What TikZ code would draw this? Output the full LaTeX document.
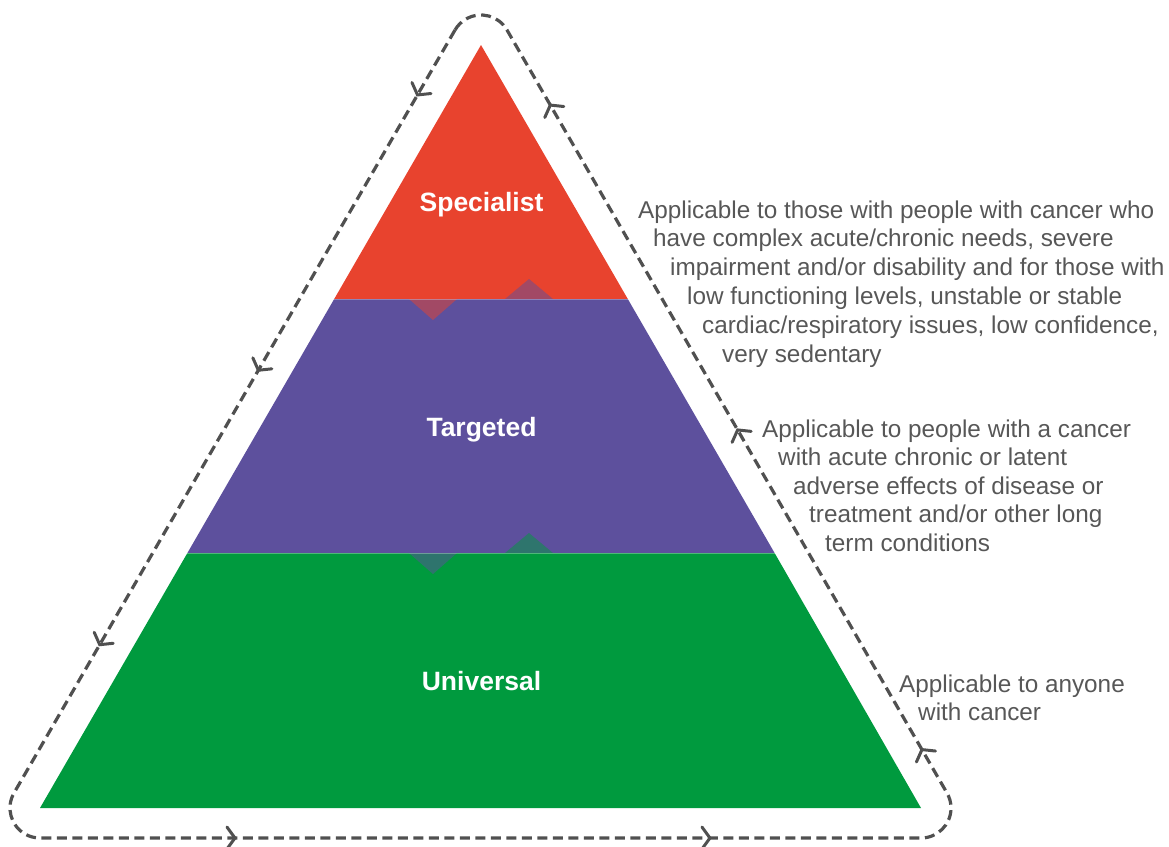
\documentclass[tikz,border=0pt]{standalone}
\usepackage{fontspec}
\setmainfont{Liberation Sans}
\usetikzlibrary{decorations.markings}
\definecolor{pyrred}{HTML}{E8432E}
\definecolor{pyrpurple}{HTML}{5D509D}
\definecolor{pyrgreen}{HTML}{009A3E}
\definecolor{txtgray}{HTML}{575757}
\definecolor{loopgray}{HTML}{505050}
\newcommand{\chevmark}{\draw[solid, draw=loopgray, line width=3pt, line cap=round, line join=miter] (-8pt,11pt) -- (0pt,0pt) -- (-8pt,-11pt);}
\begin{document}
\begin{tikzpicture}[x=1pt,y=-1pt,
  tierlabel/.style={font=\fontsize{26.5}{30}\selectfont\bfseries, text=white, inner sep=0pt, anchor=base},
  desc/.style={font=\fontsize{24.3}{29}\selectfont, text=txtgray, inner sep=0pt, anchor=base west},
  loopline/.style={draw=loopgray, line width=3.2pt, dash pattern=on 10pt off 5.5pt},
  tooth/.style={opacity=0.5},
  seam/.style={white, opacity=0.3, line width=1pt}
]
\useasboundingbox (0,0) rectangle (1169,846);

% pyramid bands
\fill[pyrred] (481,45) -- (627.8,299) -- (334.2,299) -- cycle;
\fill[pyrpurple] (334.2,299) -- (627.8,299) -- (774.6,553) -- (187.4,553) -- cycle;
\fill[pyrgreen] (187.4,553) -- (774.6,553) -- (921,808) -- (40,808) -- cycle;

% interlocking teeth
\fill[pyrred, tooth] (409,299) -- (457,299) -- (433,320) -- cycle;
\fill[pyrpurple, tooth] (505,299) -- (553,299) -- (529,279) -- cycle;
\fill[pyrpurple, tooth] (409,553) -- (457,553) -- (433,574) -- cycle;
\fill[pyrgreen, tooth] (505,553) -- (553,553) -- (529,533) -- cycle;
\draw[seam] (334.2,299) -- (627.8,299);
\draw[seam] (187.4,553) -- (774.6,553);

% dashed cycle loop
\draw[loopline,
  postaction={decorate},
  decoration={markings,
    mark=at position 75pt with {\chevmark},
    mark=at position 393pt with {\chevmark},
    mark=at position 710pt with {\chevmark},
    mark=at position 1139pt with {\chevmark},
    mark=at position 1614pt with {\chevmark},
    mark=at position 1938pt with {\chevmark},
    mark=at position 2307pt with {\chevmark},
    mark=at position 2682pt with {\chevmark}}]
  (455,30) -- (14,793) arc[start angle=210, end angle=90, radius=30]
  -- (921,838) arc[start angle=90, end angle=-30, radius=30]
  -- (507,30) arc[start angle=-30, end angle=-150, radius=30];

% tier labels
\node[tierlabel] (spec) at (481.5,211) {Specialist};
\node[tierlabel] (targ) at (481.5,436) {Targeted};
\node[tierlabel] (univ) at (481.5,690) {Universal};

% descriptions
\node[desc] (s1) at (638,218) {Applicable to those with people with cancer who};
\node[desc] (s2) at (653,246.8) {have complex acute/chronic needs, severe};
\node[desc] (s3) at (670,275.6) {impairment and/or disability and for those with};
\node[desc] (s4) at (687,304.4) {low functioning levels, unstable or stable};
\node[desc] (s5) at (702,333.2) {cardiac/respiratory issues, low confidence,};
\node[desc] (s6) at (722,362) {very sedentary};

\node[desc] (t1) at (762,437) {Applicable to people with a cancer};
\node[desc] (t2) at (778,465.5) {with acute chronic or latent};
\node[desc] (t3) at (793,494) {adverse effects of disease or};
\node[desc] (t4) at (809,522.5) {treatment and/or other long};
\node[desc] (t5) at (825,551) {term conditions};

\node[desc] (u1) at (899,692) {Applicable to anyone};
\node[desc] (u2) at (918,720) {with cancer};
\end{tikzpicture}
\end{document}
